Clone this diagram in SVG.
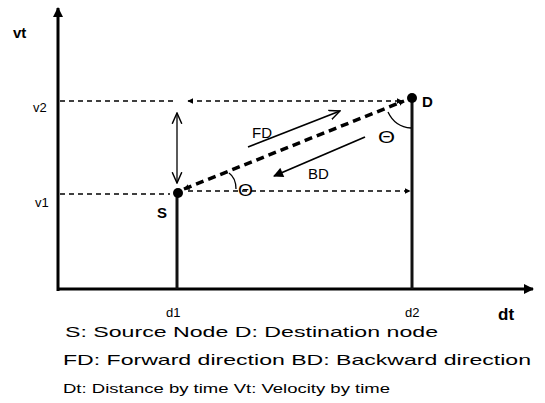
<svg xmlns="http://www.w3.org/2000/svg" width="545" height="403" viewBox="0 0 545 403">
<style>
text{font-family:"Liberation Sans",Arial,sans-serif;fill:#000}
.lbl{font-size:13px}
.bold{font-weight:bold}
.leg{font-size:15px}
.axis{stroke:#000;stroke-width:3;fill:none}
.pole{stroke:#111;stroke-width:3;fill:none}
.guide{stroke:#000;stroke-width:1.6;stroke-dasharray:5 4;fill:none}
.diag{stroke:#000;stroke-width:3.5;stroke-dasharray:8 5;fill:none}
.thin{stroke:#000;stroke-width:1.3;fill:none}
.dir{stroke:#000;stroke-width:1.8;fill:none}
</style>
<defs>
<marker id="fill" viewBox="0 0 10 10" refX="9" refY="5" markerWidth="6" markerHeight="6" markerUnits="userSpaceOnUse" orient="auto-start-reverse"><path d="M0,0 L10,5 L0,10 z" fill="#000"/></marker>
<marker id="fillL" viewBox="0 0 10 10" refX="9" refY="5" markerWidth="12" markerHeight="10" markerUnits="userSpaceOnUse" orient="auto-start-reverse"><path d="M0,0 L10,5 L0,10 z" fill="#000"/></marker>
<marker id="open" viewBox="0 0 10 10" refX="9" refY="5" markerWidth="12" markerHeight="12" markerUnits="userSpaceOnUse" orient="auto-start-reverse"><path d="M0,1 L9,5 L0,9" fill="none" stroke="#000" stroke-width="1.2"/></marker>
</defs>

<g id="axes">
<line class="axis" x1="58" y1="291" x2="58" y2="8" marker-end="url(#fillL)"/>
<line class="axis" x1="57" y1="289" x2="533" y2="289" marker-end="url(#fillL)"/>
<text class="lbl bold" x="13" y="38" style="font-size:15px">vt</text>
<text class="lbl bold" x="498" y="320" style="font-size:17px">dt</text>
<text class="lbl" x="33" y="112">v2</text>
<text class="lbl" x="35" y="207">v1</text>
<text class="lbl" x="166" y="317">d1</text>
<text class="lbl" x="405" y="317">d2</text>
</g>

<g id="node-S">
<line class="pole" x1="177" y1="193" x2="177" y2="289"/>
<circle cx="178" cy="193" r="5" fill="#000"/>
<text class="bold" x="157" y="218" style="font-size:15px">S</text>
</g>

<g id="node-D">
<line class="pole" x1="412" y1="98" x2="412" y2="289"/>
<circle cx="412" cy="98" r="5" fill="#000"/>
<text class="bold" x="422" y="107" style="font-size:15px">D</text>
</g>

<g id="connectors">
<line class="guide" x1="60" y1="101" x2="176" y2="101"/>
<line class="guide" x1="60" y1="194" x2="170" y2="194"/>
<line class="guide" x1="188" y1="101" x2="402" y2="101" marker-start="url(#fill)" marker-end="url(#fill)"/>
<line class="guide" x1="188" y1="191" x2="410" y2="191" marker-end="url(#fill)"/>
<line class="thin" x1="177" y1="113" x2="177" y2="183" marker-start="url(#open)" marker-end="url(#open)"/>
<line class="diag" x1="184" y1="189" x2="404" y2="101" marker-start="url(#fill)" marker-end="url(#fill)"/>
<line class="dir" x1="248" y1="147" x2="340" y2="111" marker-end="url(#open)"/>
<line class="dir" x1="365" y1="137" x2="274" y2="176" marker-end="url(#fillL)"/>
<path class="thin" d="M229,173 Q236,178 236,189"/>
<path class="thin" d="M388,112 Q395,127 411,128"/>
</g>

<g id="labels">
<text class="lbl" x="252" y="138" style="font-size:15px">FD</text>
<text class="lbl" x="308" y="179" style="font-size:15px">BD</text>
<text class="lbl" x="238" y="196" style="font-size:16px" textLength="15" lengthAdjust="spacingAndGlyphs">Θ</text>
<text class="lbl" x="378" y="143" style="font-size:16px" textLength="17" lengthAdjust="spacingAndGlyphs">Θ</text>
</g>

<g id="legend">
<text class="leg" x="65" y="337" textLength="373" lengthAdjust="spacingAndGlyphs">S: Source Node D: Destination node</text>
<text class="leg" x="63" y="365" textLength="468" lengthAdjust="spacingAndGlyphs">FD: Forward direction BD: Backward direction</text>
<text class="leg" x="63" y="393" style="font-size:12px" textLength="327" lengthAdjust="spacingAndGlyphs">Dt: Distance by time Vt: Velocity by time</text>
</g>
</svg>
